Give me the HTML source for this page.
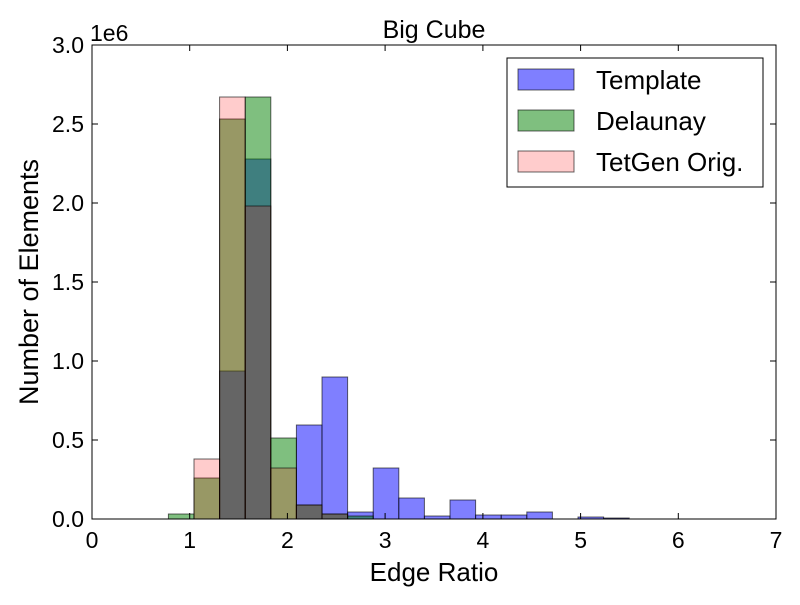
<!DOCTYPE html><html><head><style>body{margin:0;background:#fff}</style></head><body>
<svg width="800" height="600" xmlns="http://www.w3.org/2000/svg" font-family="Liberation Sans, sans-serif">
<rect width="800" height="600" fill="#fff"/>
<g stroke="#000" stroke-opacity="0.6">
<g fill="#0000ff" fill-opacity="0.5">
<rect x="219.6" y="371" width="25.6" height="148"/>
<rect x="245.2" y="159" width="25.6" height="360"/>
<rect x="296.4" y="425" width="25.6" height="94"/>
<rect x="322" y="377" width="25.6" height="142"/>
<rect x="347.6" y="512" width="25.6" height="7"/>
<rect x="373.2" y="468" width="25.6" height="51"/>
<rect x="398.8" y="498" width="25.6" height="21"/>
<rect x="424.4" y="516" width="25.6" height="3"/>
<rect x="450" y="500" width="25.6" height="19"/>
<rect x="475.6" y="515" width="25.6" height="4"/>
<rect x="501.2" y="515" width="25.6" height="4"/>
<rect x="526.8" y="512" width="25.6" height="7"/>
<rect x="578" y="517" width="25.6" height="2"/>
<rect x="603.6" y="518" width="25.6" height="1"/>
</g>
<g fill="#008000" fill-opacity="0.5">
<rect x="168.4" y="514" width="25.6" height="5"/>
<rect x="194" y="478" width="25.6" height="41"/>
<rect x="219.6" y="119" width="25.6" height="400"/>
<rect x="245.2" y="97" width="25.6" height="422"/>
<rect x="270.8" y="438" width="25.6" height="81"/>
<rect x="296.4" y="505" width="25.6" height="14"/>
<rect x="322" y="514" width="25.6" height="5"/>
<rect x="347.6" y="516" width="25.6" height="3"/>
</g>
<g fill="#ff0000" fill-opacity="0.2">
<rect x="194" y="459" width="25.6" height="60"/>
<rect x="219.6" y="97" width="25.6" height="422"/>
<rect x="245.2" y="206" width="25.6" height="313"/>
<rect x="270.8" y="468" width="25.6" height="51"/>
<rect x="296.4" y="505" width="25.6" height="14"/>
<rect x="322" y="514" width="25.6" height="5"/>
</g>
</g>
<rect x="92" y="45" width="684" height="474" fill="none" stroke="#000" stroke-width="1"/>
<g stroke="#000">
<path d="M92,519v-6M189.7,519v-6M287.4,519v-6M385.1,519v-6M482.9,519v-6M580.6,519v-6M678.3,519v-6M92,45v6M189.7,45v6M287.4,45v6M385.1,45v6M482.9,45v6M580.6,45v6M678.3,45v6"/>
<path d="M92,440h6M92,361h6M92,282h6M92,203h6M92,124h6M776,440h-6M776,361h-6M776,282h-6M776,203h-6M776,124h-6"/>
</g>
<g font-size="23" text-anchor="middle">
<text x="92" y="548">0</text><text x="189.7" y="548">1</text><text x="287.4" y="548">2</text><text x="385.1" y="548">3</text><text x="482.9" y="548">4</text><text x="580.6" y="548">5</text><text x="678.3" y="548">6</text><text x="776" y="548">7</text>
</g>
<g font-size="23" text-anchor="end">
<text x="84" y="527">0.0</text><text x="84" y="448">0.5</text><text x="84" y="369">1.0</text><text x="84" y="290">1.5</text><text x="84" y="211">2.0</text><text x="84" y="132">2.5</text><text x="84" y="53">3.0</text>
</g>
<text x="90" y="41" font-size="23">1e6</text>
<text x="434" y="38" font-size="25" text-anchor="middle">Big Cube</text>
<text x="434" y="581" font-size="26" text-anchor="middle">Edge Ratio</text>
<text transform="translate(38,282) rotate(-90)" font-size="27" text-anchor="middle">Number of Elements</text>
<rect x="507" y="58" width="256" height="129" fill="#fff" stroke="#000"/>
<rect x="518" y="69" width="56" height="21" fill="#0000ff" fill-opacity="0.5" stroke="#000" stroke-opacity="0.6"/>
<rect x="518" y="110" width="56" height="21" fill="#008000" fill-opacity="0.5" stroke="#000" stroke-opacity="0.6"/>
<rect x="518" y="151" width="56" height="21" fill="#ff0000" fill-opacity="0.2" stroke="#000" stroke-opacity="0.6"/>
<g font-size="26"><text x="596" y="89">Template</text><text x="596" y="130">Delaunay</text><text x="596" y="171">TetGen Orig.</text></g>
</svg></body></html>
